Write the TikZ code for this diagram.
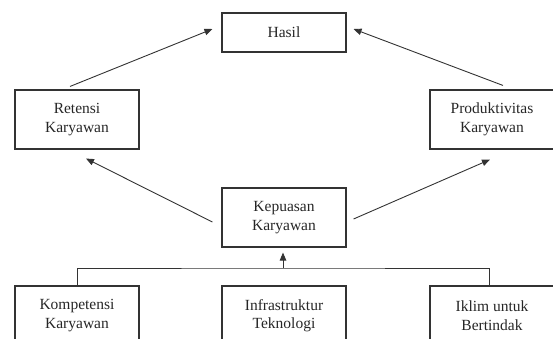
\documentclass[tikz,border=0pt]{standalone}
\usepackage{fontspec}
\setmainfont{Liberation Serif}
\usetikzlibrary{arrows.meta}
\begin{document}
\begin{tikzpicture}[x=1pt,y=-1pt,
  box/.style={draw=black!80,line width=1.1pt,minimum width=124pt,minimum height=59pt,inner sep=0pt,align=center,
    font=\fontsize{15.5}{18.5}\selectfont,text=black!85},
  conn/.style={draw=black!80,line width=0.9pt},
  arr/.style={conn,-{Triangle[length=8pt,width=6.5pt]}}]
\useasboundingbox (0,0) rectangle (553,338);
\node[box,minimum height=39pt] (hasil) at (284,32.5) {Hasil};
\node[box] (ret) at (77,119.5) {Retensi\\Karyawan};
\node[box] (prod) at (492,119.5) {Produktivitas\\Karyawan};
\node[box] (kep) at (284,217.5) {Kepuasan\\Karyawan};
\node[box] (komp) at (77,315.5) {Kompetensi\\Karyawan};
\node[box] (infra) at (284,315.5) {Infrastruktur\\Teknologi};
\node[box] (iklim) at (492,315.5) {Iklim untuk\\Bertindak};
\coordinate (bus) at (283,268);
\draw[arr] ([xshift=-7pt,yshift=3pt]ret.north) -- ([xshift=-9pt,yshift=3.5pt]hasil.west);
\draw[arr] ([xshift=11pt,yshift=4pt]prod.north) -- ([xshift=7pt,yshift=3.5pt]hasil.east);
\draw[arr] ([xshift=-9pt,yshift=-4.5pt]kep.west) -- ([xshift=9pt,yshift=-9pt]ret.south);
\draw[arr] ([xshift=7pt,yshift=-1.5pt]kep.east) -- ([xshift=-2pt,yshift=-10pt]prod.south);
\draw[conn] (komp.north -| 77,0) |- (bus) -| (iklim.north -| 489,0);
\draw[arr] (bus) -- ([xshift=-1pt,yshift=-5pt]kep.south);
\end{tikzpicture}
\end{document}
